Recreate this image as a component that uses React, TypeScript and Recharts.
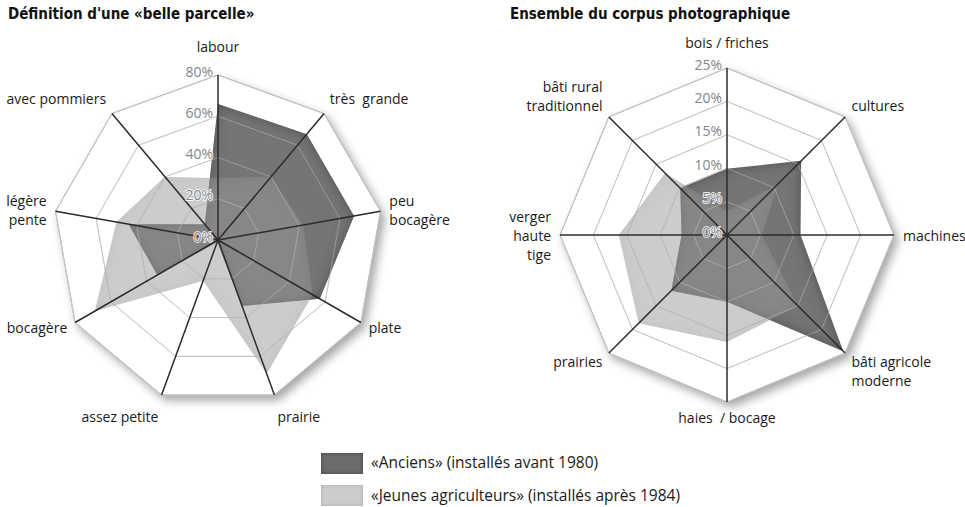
import { RadarChart, Radar, PolarGrid, PolarAngleAxis, PolarRadiusAxis } from 'recharts';

// Définition d'une «belle parcelle»
const parcelleCats = [
  'labour',
  'très  grande',
  'peu\nbocagère',
  'plate',
  'prairie',
  'assez petite',
  'bocagère',
  'légère\npente',
  'avec pommiers',
];
const parcelleAnciens = [66, 67, 67, 57, 34, 1, 34, 44, 10];
const parcelleJeunes = [30, 40, 42, 53, 69, 21, 69, 50, 40];
const parcelleTicks = [0, 20, 40, 60, 80];

// Ensemble du corpus photographique
const corpusCats = [
  'bois / friches',
  'cultures',
  'machines',
  'bâti agricole\nmoderne',
  'haies  / bocage',
  'prairies',
  'verger\nhaute\ntige',
  'bâti rural\ntraditionnel',
];
const corpusAnciens = [9.9, 15.7, 11, 24.6, 10, 11.8, 6.8, 9.9];
const corpusJeunes = [3.5, 10.8, 5.2, 15, 16, 18.7, 16.2, 13.1];
const corpusTicks = [0, 5, 10, 15, 20, 25];

const W = 965;
const H = 507;
const FONT = "'Open Sans', 'Noto Sans', sans-serif";
const LINE = 19;

const parcelleData = parcelleCats.map((name, i) => ({
  name,
  anciens: parcelleAnciens[i],
  jeunes: parcelleJeunes[i],
}));
const corpusData = corpusCats.map((name, i) => ({
  name,
  anciens: corpusAnciens[i],
  jeunes: corpusJeunes[i],
}));

// category labels: pushed outward along each spoke, nudged up/down near the poles
const makeAngleTick = (cx: number, cy: number, r: number, upLift: number, downLift: number) => (props: any) => {
  const { payload } = props;
  const a = (payload.coordinate * Math.PI) / 180;
  const ux = Math.cos(a);
  const uy = -Math.sin(a);
  const d = r + 9;
  const x = cx + d * ux;
  const y0 = cy + d * uy;
  const anchor = Math.abs(ux) < 0.1 ? 'middle' : ux > 0 ? 'start' : 'end';
  const c = -uy;
  const k = Math.max(0, (Math.abs(c) - 0.6) / 0.4);
  const dy = c > 0 ? -k * upLift : k * downLift;
  const lines = String(payload.value).split('\n');
  const n = lines.length;
  const first = c > 0.6 ? y0 + dy - (n - 1) * LINE : c < -0.6 ? y0 + dy : y0 - ((n - 1) * LINE) / 2;
  return (
    <text
      textAnchor={anchor}
      fontFamily={FONT}
      fontSize={14}
      fill="#1a1a1a"
      style={{ whiteSpace: 'pre' }}
    >
      {lines.map((l, i) => (
        <tspan key={i} x={x} y={first + i * LINE} dominantBaseline="central">
          {l}
        </tspan>
      ))}
    </text>
  );
};

const radiusTick = (props: any) => (
  <text
    x={props.x - 5}
    y={props.y - 4}
    textAnchor="end"
    dominantBaseline="central"
    fontFamily={FONT}
    fontSize={14}
    fill="#858585"
    stroke="#fff"
    strokeWidth={1.6}
    paintOrder="stroke"
  >
    {props.payload.value}%
  </text>
);

const polyShape = (fill: string, filter: string, opacity: number) => (props: any) => (
  <polygon
    points={props.points.map((p: any) => `${p.x},${p.y}`).join(' ')}
    fill={fill}
    opacity={opacity}
    filter={filter}
  />
);

interface PanelProps {
  data: { name: string; anciens: number; jeunes: number }[];
  ticks: number[];
  cx: number;
  cy: number;
  r: number;
  upLift: number;
  downLift: number;
}

const layer: React.CSSProperties = { position: 'absolute', left: 0, top: 0 };

const Panel = ({ data, ticks, cx, cy, r, upLift, downLift }: PanelProps) => {
  const domain = [0, ticks[ticks.length - 1]];
  const common = { width: W, height: H, data, cx, cy, outerRadius: r, margin: { top: 0, right: 0, bottom: 0, left: 0 } };
  const radius = (
    <PolarRadiusAxis type="number" domain={domain} ticks={ticks} allowDataOverflow tick={false} axisLine={false} />
  );
  const angle = <PolarAngleAxis dataKey="name" tick={false} tickLine={false} axisLine={false} />;
  return (
    <>
      <div className="frame" style={layer}>
        <RadarChart {...common}>
          <PolarGrid gridType="polygon" radialLines={false} polarRadius={[r]} stroke="#b8b8b8" />
          {angle}
          {radius}
        </RadarChart>
      </div>
      <div style={layer}>
        <RadarChart {...common}>
          <PolarGrid gridType="polygon" radialLines={false} stroke="#b8b8b8" strokeWidth={1} />
          {angle}
          {radius}
          <Radar
            dataKey="anciens"
            isAnimationActive={false}
            shape={polyShape('#747474', 'url(#innerDark)', 1)}
          />
          <Radar
            dataKey="jeunes"
            isAnimationActive={false}
            shape={polyShape('#9a9a9a', 'url(#innerLight)', 0.5)}
          />
        </RadarChart>
      </div>
      <div className="rings" style={layer}>
        <RadarChart {...common}>
          <PolarGrid gridType="polygon" radialLines={false} stroke="#d8d8d8" strokeOpacity={0.4} />
          {angle}
          {radius}
        </RadarChart>
      </div>
      <div className="overlay" style={layer}>
        <RadarChart {...common}>
          <PolarGrid gridType="polygon" radialLines polarRadius={[]} stroke="#2b2b2b" strokeWidth={1.5} />
          <PolarAngleAxis
            dataKey="name"
            tick={makeAngleTick(cx, cy, r, upLift, downLift)}
            tickLine={false}
            axisLine={false}
          />
          <PolarRadiusAxis
            type="number"
            angle={90}
            domain={domain}
            ticks={ticks}
            allowDataOverflow
            tick={radiusTick}
            axisLine={false}
          />
        </RadarChart>
      </div>
    </>
  );
};

const titleStyle: React.CSSProperties = {
  position: 'absolute',
  top: 5,
  fontFamily: "'Liberation Sans Narrow', 'DejaVu Sans Condensed', sans-serif",
  fontWeight: 'bold',
  fontSize: 15,
  color: '#111',
  whiteSpace: 'nowrap',
};

const legendText: React.CSSProperties = {
  position: 'absolute',
  left: 371,
  fontFamily: FONT,
  fontSize: 15.5,
  color: '#1a1a1a',
  whiteSpace: 'nowrap',
  lineHeight: '21px',
};

export default function App() {
  return (
    <div style={{ position: 'absolute', left: 0, top: 0, width: W, height: H, background: '#fff', overflow: 'hidden' }}>
      <style>{`
        .frame .recharts-polar-grid-concentric path { fill: #fff; filter: drop-shadow(4px 5px 5px rgba(0,0,0,0.35)); }
        .overlay .recharts-polar-grid-concentric { display: none; }
      `}</style>
      <svg width={0} height={0} style={{ position: 'absolute' }}>
        <defs>
          <filter id="innerDark" x="-20%" y="-20%" width="140%" height="140%">
            <feGaussianBlur in="SourceAlpha" stdDeviation="6" result="blur" />
            <feComposite in="SourceAlpha" in2="blur" operator="out" result="edge" />
            <feFlood floodColor="#000" floodOpacity="0.6" />
            <feComposite in2="edge" operator="in" result="shadow" />
            <feMerge>
              <feMergeNode in="SourceGraphic" />
              <feMergeNode in="shadow" />
            </feMerge>
          </filter>
          <filter id="innerLight" x="-20%" y="-20%" width="140%" height="140%">
            <feGaussianBlur in="SourceAlpha" stdDeviation="6" result="blur" />
            <feComposite in="SourceAlpha" in2="blur" operator="out" result="edge" />
            <feFlood floodColor="#000" floodOpacity="0.25" />
            <feComposite in2="edge" operator="in" result="shadow" />
            <feMerge>
              <feMergeNode in="SourceGraphic" />
              <feMergeNode in="shadow" />
            </feMerge>
          </filter>
        </defs>
      </svg>

      <Panel data={parcelleData} ticks={parcelleTicks} cx={218} cy={240} r={165} upLift={20} downLift={15} />
      <Panel data={corpusData} ticks={corpusTicks} cx={727} cy={235} r={167} upLift={17} downLift={6} />

      <div style={{ ...titleStyle, left: 8 }}>Définition d'une «belle parcelle»</div>
      <div style={{ ...titleStyle, left: 510 }}>Ensemble du corpus photographique</div>

      <div style={{ position: 'absolute', left: 321, top: 453, width: 42, height: 21, background: '#6c6c6c', boxShadow: 'inset 0 0 4px rgba(0,0,0,0.4)' }} />
      <div style={{ ...legendText, top: 452 }}>«Anciens» (installés avant 1980)</div>
      <div style={{ position: 'absolute', left: 321, top: 485, width: 42, height: 21, background: '#cdcdcd', boxShadow: 'inset 0 0 4px rgba(0,0,0,0.15)' }} />
      <div style={{ ...legendText, top: 485 }}>«Jeunes agriculteurs» (installés après 1984)</div>
    </div>
  );
}
